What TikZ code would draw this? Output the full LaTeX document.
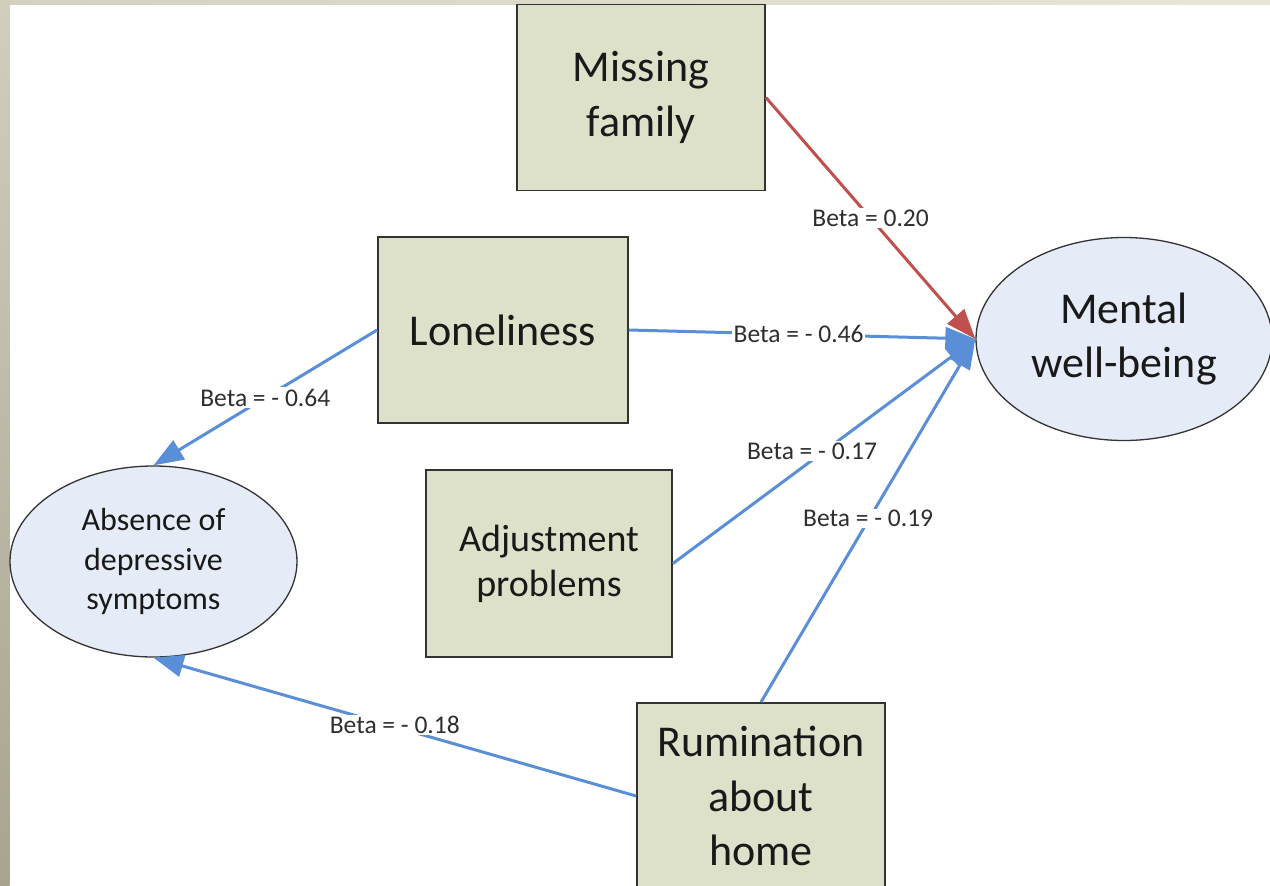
\documentclass[tikz,border=0pt]{standalone}
\usepackage{fontspec}
\setmainfont{Carlito}
\usetikzlibrary{arrows.meta,shapes.geometric}
\definecolor{boxfill}{HTML}{DDE1CA}
\definecolor{ellfill}{HTML}{E6ECF7}
\definecolor{blueline}{HTML}{5A8FD8}
\definecolor{redline}{HTML}{C0504D}
\definecolor{labtext}{HTML}{2E2E2E}
\definecolor{topa}{HTML}{D5D1C1}
\definecolor{topb}{HTML}{EAE6D6}
\definecolor{lefta}{HTML}{D2CEBE}
\definecolor{leftb}{HTML}{A8A491}
\begin{document}
\begin{tikzpicture}[x=1pt,y=-1pt,
  box/.style={draw=black!80,line width=1.8pt,fill=boxfill,align=center,inner sep=0pt,
    minimum width=248pt,minimum height=186pt,text=black!90,font=\fontsize{44}{54.5}\selectfont},
  ell/.style={ellipse,draw=black!80,line width=1.3pt,fill=ellfill,align=center,inner sep=0pt,text=black!90},
  conn/.style={line width=3pt,-{Triangle[length=30pt,width=22pt]}},
  bluec/.style={conn,draw=blueline,fill=blueline},
  redc/.style={conn,draw=redline,fill=redline},
  lab/.style={fill=white,inner sep=1.5pt,text=labtext,font=\fontsize{25.5}{29}\selectfont}]
\useasboundingbox (0,0) rectangle (1270,886);
\clip (0,0) rectangle (1270,886);
\fill[white] (0,0) rectangle (1270,886);
\shade[left color=topa,right color=topb] (0,0) rectangle (1270,4.5);
\shade[top color=lefta,bottom color=leftb] (0,0) rectangle (9.5,886);

\node[box] (MF) at (641,97.5) {Missing\\family};
\node[box,minimum width=250pt] (LO) at (503,330) {Loneliness};
\node[box,minimum width=246pt,minimum height=187pt,font=\fontsize{38}{45}\selectfont] (AP) at (549,563.5) {Adjustment\\problems};
\node[box] (RH) at (761,796) {Rumination\\about\\home};
\node[ell,minimum width=296pt,minimum height=203pt,font=\fontsize{44}{54}\selectfont] (MW) at (1124,339) {Mental\\well-being};
\node[ell,minimum width=287pt,minimum height=191pt,font=\fontsize{32}{39.5}\selectfont] (AD) at (153.5,561.5) {Absence of\\depressive\\symptoms};

\draw[redc] (MF.east) -- (MW.west) node[lab,pos=0.5] {Beta = 0.20};
\draw[bluec] (LO.east) -- (MW.west) node[lab,pos=0.49] {Beta = - 0.46};
\draw[bluec] (AP.east) -- (MW.west) node[lab,pos=0.46,yshift=9pt] {Beta = - 0.17};
\draw[bluec] (RH.north) -- (MW.west) node[lab,pos=0.5,yshift=2pt] {Beta = - 0.19};
\draw[bluec] (LO.west) -- (AD.north) node[lab,pos=0.5] {Beta = - 0.64};
\draw[bluec] (RH.west) -- (AD.south) node[lab,pos=0.5,yshift=2pt] {Beta = - 0.18};
\end{tikzpicture}
\end{document}
